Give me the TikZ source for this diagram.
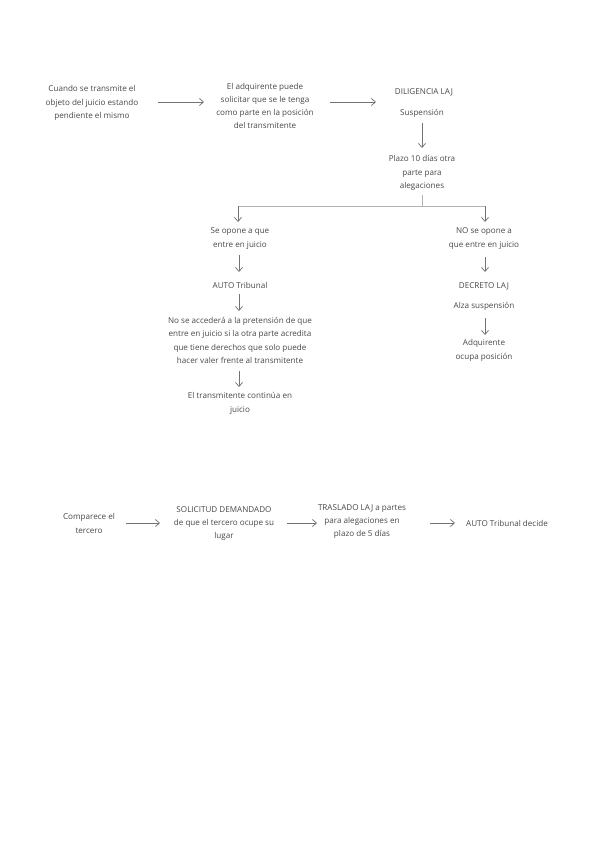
\documentclass[tikz,border=0pt]{standalone}
\usepackage{fontspec}
\setmainfont{Open Sans}
\usetikzlibrary{arrows.meta}
\begin{document}
\begin{tikzpicture}[x=1pt,y=-1pt,
  txt/.style={align=center,inner sep=0pt,font=\fontsize{8.1}{13.3}\selectfont,text=black!72},
  arr/.style={draw=black!55,line width=0.75pt,-{Straight Barb[length=4pt,width=7pt]}},
  ln/.style={draw=black!30,line width=0.5pt}]
\useasboundingbox (0,0) rectangle (599,848);
% top row
\node[txt] (a) at (92,103) {Cuando se transmite el\\objeto del juicio estando\\pendiente el mismo};
\node[txt] (b) at (265,106) {El adquirente puede\\solicitar que se le tenga\\como parte en la posición\\del transmitente};
\node[txt] (c) at (424,92) {DILIGENCIA LAJ};
\node[txt] (c2) at (422,113) {Suspensión};
\node[txt] (d) at (422,173) {Plazo 10 días otra\\parte para\\alegaciones};
\coordinate (a1) at (158,102); \coordinate (a2) at (204,102);
\coordinate (b1) at (330,102); \coordinate (b2) at (376,102);
\draw[arr] (a1) -- (a2);
\draw[arr] (b1) -- (b2);
\coordinate (s1) at (422,123); \coordinate (s2) at (422,148);
\draw[arr] (s1) -- (s2);
% split
\coordinate (p0) at (422,195); \coordinate (p1) at (422,206);
\coordinate (l0) at (238,206); \coordinate (r0) at (485,206);
\coordinate (l1) at (238,222); \coordinate (r1) at (485,222);
\draw[ln] (p0) -- (p1);
\draw[ln] (l0) -- (r0);
\draw[arr] (l0) -- (l1);
\draw[arr] (r0) -- (r1);
% left branch
\node[txt] (e) at (240,238.5) {Se opone a que\\entre en juicio};
\node[txt] (f) at (240,285) {AUTO Tribunal};
\node[txt] (g) at (240,340.5) {No se accederá a la pretensión de que\\entre en juicio si la otra parte acredita\\que tiene derechos que solo puede\\hacer valer frente al transmitente};
\node[txt] (h) at (240,403.5) {El transmitente continúa en\\juicio};
\coordinate (e1) at (239,255); \coordinate (e2) at (239,272);
\coordinate (f1) at (239,294); \coordinate (f2) at (239,311);
\coordinate (g1) at (239,371); \coordinate (g2) at (239,387);
\draw[arr] (e1) -- (e2);
\draw[arr] (f1) -- (f2);
\draw[arr] (g1) -- (g2);
% right branch
\node[txt] (i) at (484,238.5) {NO se opone a\\que entre en juicio};
\node[txt] (j) at (484,286) {DECRETO LAJ};
\node[txt] (j2) at (484,306) {Alza suspensión};
\node[txt] (k) at (484,350.5) {Adquirente\\ocupa posición};
\coordinate (i1) at (485,257); \coordinate (i2) at (485,272);
\coordinate (j1) at (485,318); \coordinate (j2b) at (485,335);
\draw[arr] (i1) -- (i2);
\draw[arr] (j1) -- (j2b);
% bottom row
\node[txt] (m) at (89,523.5) {Comparece el\\tercero};
\node[txt] (n) at (224,523.5) {SOLICITUD DEMANDADO\\de que el tercero ocupe su\\lugar};
\node[txt] (o) at (362,521.5) {TRASLADO LAJ a partes\\para alegaciones en\\plazo de 5 días};
\node[txt] (q) at (507,523) {AUTO Tribunal decide};
\coordinate (m1) at (126,523); \coordinate (m2) at (160,523);
\coordinate (n1) at (287,523); \coordinate (n2) at (317,523);
\coordinate (o1) at (430,523); \coordinate (o2) at (455,523);
\draw[arr] (m1) -- (m2);
\draw[arr] (n1) -- (n2);
\draw[arr] (o1) -- (o2);
\end{tikzpicture}
\end{document}
